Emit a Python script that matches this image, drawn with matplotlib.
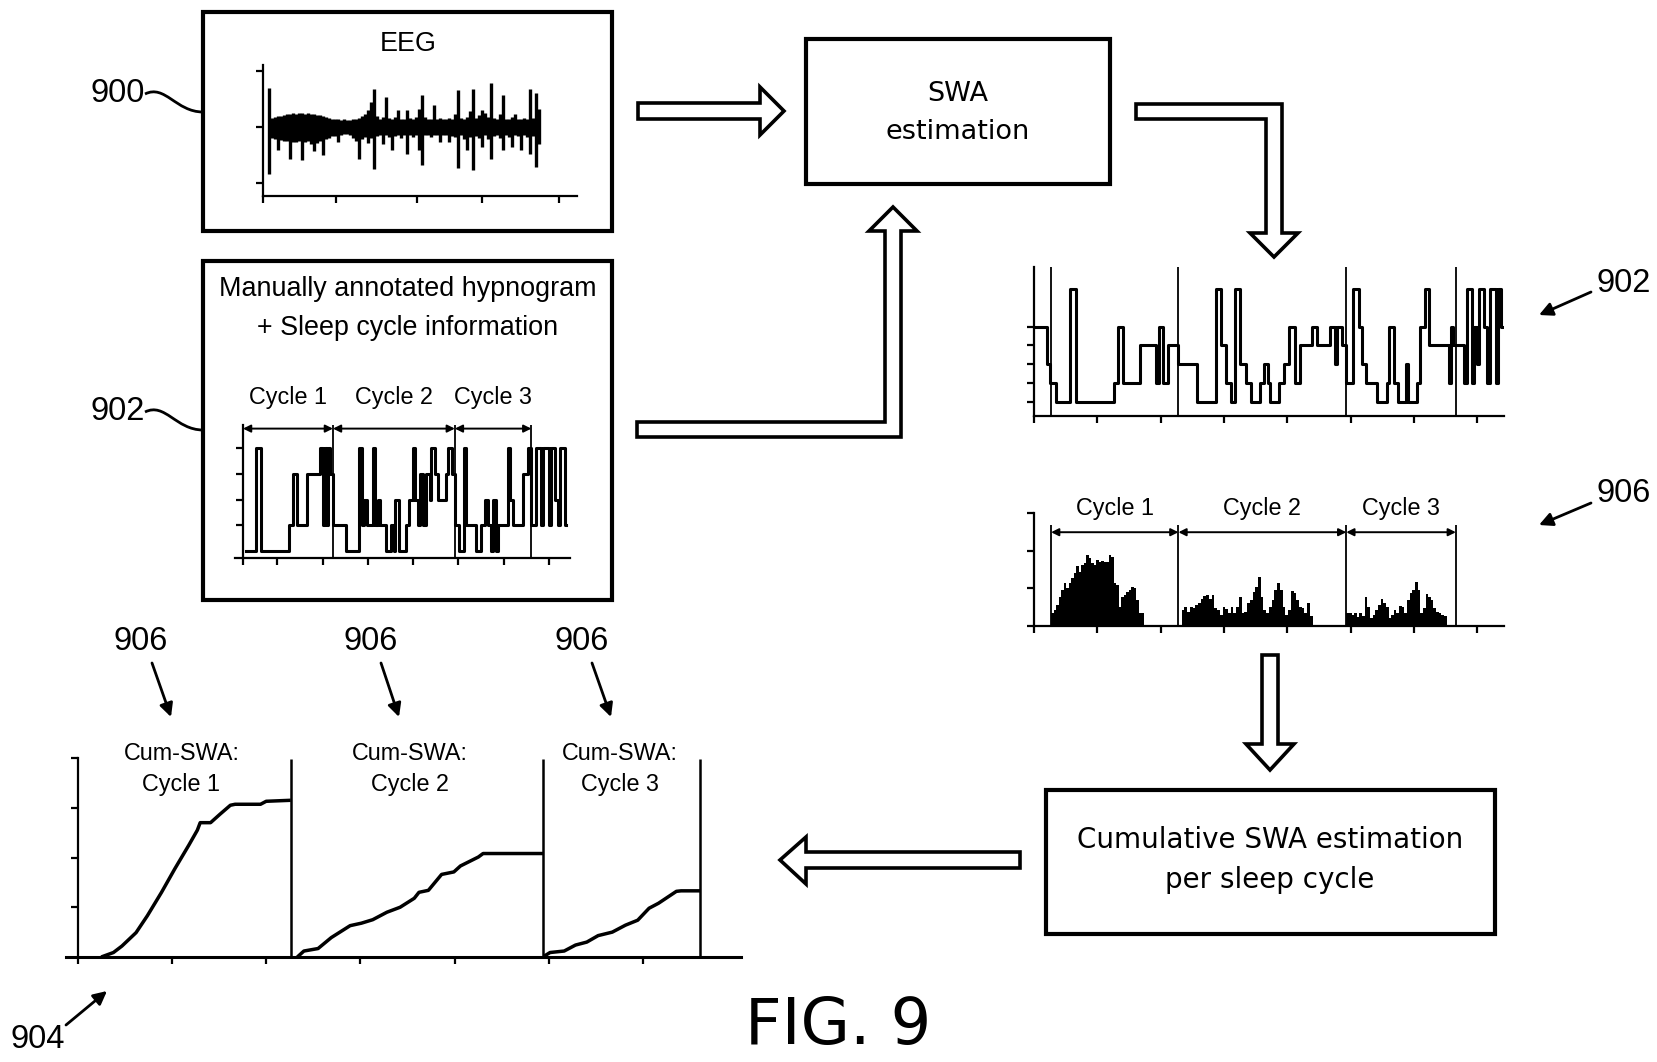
import matplotlib
matplotlib.use('Agg')
from matplotlib import pyplot as plt
from matplotlib import patches, font_manager
from matplotlib.path import Path

W, H = 1658, 1062

# ---------------- data ----------------
# EEG trace: upper / lower extent of every sample
eeg_hi = [0.71, 0.17, 0.18, 0.19, 0.20, 0.22, 0.23, 0.24, 0.25, 0.24, 0.25, 0.25, 0.24, 0.25, 0.24, 0.23,
          0.22, 0.21, 0.20, 0.18, 0.17, 0.15, 0.14, 0.14, 0.13, 0.14, 0.13, 0.12, 0.14, 0.15, 0.17, 0.20,
          0.24, 0.30, 0.45, 0.69, 0.20, 0.15, 0.18, 0.54, 0.16, 0.14, 0.18, 0.30, 0.15, 0.14, 0.30, 0.16,
          0.14, 0.18, 0.33, 0.57, 0.18, 0.14, 0.15, 0.39, 0.14, 0.16, 0.14, 0.15, 0.17, 0.14, 0.24, 0.66,
          0.17, 0.14, 0.18, 0.28, 0.69, 0.16, 0.22, 0.30, 0.25, 0.18, 0.80, 0.17, 0.14, 0.24, 0.57, 0.15,
          0.14, 0.18, 0.24, 0.14, 0.15, 0.16, 0.14, 0.69, 0.16, 0.62, 0.33]
eeg_lo = [-0.84, -0.20, -0.22, -0.41, -0.24, -0.25, -0.26, -0.57, -0.27, -0.27, -0.26, -0.59, -0.27, -0.26,
          -0.30, -0.43, -0.28, -0.25, -0.51, -0.22, -0.20, -0.17, -0.16, -0.27, -0.14, -0.12, -0.13, -0.15,
          -0.20, -0.25, -0.57, -0.22, -0.18, -0.29, -0.20, -0.75, -0.16, -0.14, -0.30, -0.15, -0.18, -0.42,
          -0.16, -0.14, -0.20, -0.15, -0.48, -0.14, -0.18, -0.15, -0.42, -0.69, -0.15, -0.14, -0.18, -0.15,
          -0.14, -0.27, -0.15, -0.14, -0.27, -0.16, -0.18, -0.73, -0.15, -0.22, -0.42, -0.18, -0.77, -0.16,
          -0.20, -0.36, -0.15, -0.22, -0.57, -0.16, -0.14, -0.20, -0.42, -0.15, -0.18, -0.36, -0.15, -0.16,
          -0.42, -0.15, -0.18, -0.49, -0.16, -0.72, -0.30]
eeg_xticks = [-2, 22.3, 49.3, 71, 96.7]

# manually annotated hypnogram (inside box 902): change times, stage
hyp_t = [0.07, 0.30, 0.41, 1.02, 1.11, 1.19, 1.43, 1.72, 1.78, 1.83, 1.87, 1.90, 1.93, 1.99, 2.30, 2.58,
         2.65, 2.68, 2.76, 2.90, 2.94, 3.00, 3.05, 3.17, 3.30, 3.35, 3.39, 3.46, 3.63, 3.70, 3.78, 3.83,
         3.89, 3.93, 4.00, 4.07, 4.15, 4.19, 4.26, 4.33, 4.52, 4.56, 4.65, 4.71, 4.81, 4.91, 4.95, 5.19,
         5.30, 5.37, 5.45, 5.52, 5.56, 5.63, 5.67, 5.89, 5.93, 6.00, 6.22, 6.33, 6.41, 6.52, 6.63, 6.67,
         6.81, 6.84, 6.93, 7.00, 7.04, 7.15]
hyp_stage = [0, 4, 0, 1, 3, 1, 3, 4, 1, 4, 1, 4, 3, 1, 0, 4,
             1, 2, 1, 4, 1, 2, 1, 0, 1, 0, 2, 0, 1, 2, 4, 2,
             1, 3, 1, 3, 2, 4, 3, 2, 3, 4, 3, 1, 0, 4, 1, 0,
             1, 2, 1, 0, 2, 0, 1, 4, 2, 1, 3, 4, 1, 4, 1, 4,
             1, 4, 2, 1, 4, 1]
hyp_end = 7.19
hyp_cycles = [0, 2.0, 4.71, 6.41]
hyp_xticks = [0, 0.76, 1.78, 2.78, 3.78, 4.78, 5.8, 6.8]

# full-night hypnogram (right, 902)
hyp2_t = [0.00, 0.21, 0.26, 0.34, 0.57, 0.66, 1.26, 1.33, 1.41, 1.68, 1.92, 1.97, 2.04, 2.11, 2.28, 2.58,
          2.87, 2.95, 3.03, 3.11, 3.17, 3.25, 3.34, 3.42, 3.57, 3.63, 3.69, 3.73, 3.87, 3.95, 4.03, 4.12,
          4.20, 4.39, 4.47, 4.68, 4.75, 4.79, 4.87, 4.93, 5.03, 5.13, 5.18, 5.24, 5.42, 5.58, 5.61, 5.69,
          5.74, 5.87, 5.91, 6.05, 6.09, 6.18, 6.24, 6.55, 6.58, 6.62, 6.79, 6.84, 6.92, 6.95, 7.00, 7.03,
          7.11, 7.15, 7.20, 7.29, 7.32, 7.37]
hyp2_stage = [4, 2, 1, 0, 6, 0, 1, 4, 1, 3, 1, 4, 1, 3, 2, 0,
              6, 3, 1, 0, 6, 2, 1, 0, 1, 2, 1, 0, 1, 2, 4, 1,
              3, 4, 3, 4, 2, 4, 3, 1, 6, 4, 2, 1, 0, 1, 4, 1,
              0, 2, 0, 1, 4, 6, 3, 1, 4, 3, 1, 6, 1, 4, 2, 6,
              4, 1, 6, 1, 6, 4]
hyp2_end = 7.41
night_cycles = [0.27, 2.28, 4.93, 6.66]

# SWA per epoch, one list per sleep cycle (906)
swa_c1 = [0.34, 0.42, 0.56, 0.78, 0.96, 1.13, 1.00, 1.13, 1.27, 1.40, 1.59, 1.44, 1.62, 1.66, 1.88, 1.80,
          1.66, 1.62, 1.75, 1.71, 1.73, 1.71, 1.71, 1.88, 1.84, 1.13, 1.09, 0.51, 0.78, 0.82, 0.91, 0.96,
          1.03, 1.02, 0.69, 0.34, 0.34]
swa_c2 = [0.42, 0.51, 0.38, 0.50, 0.47, 0.56, 0.60, 0.73, 0.80, 0.82, 0.71, 0.82, 0.47, 0.42, 0.29, 0.50,
          0.44, 0.34, 0.50, 0.34, 0.51, 0.78, 0.34, 0.38, 0.60, 0.69, 0.91, 1.04, 1.31, 0.78, 0.42, 0.34,
          0.51, 0.69, 0.96, 1.13, 0.96, 0.51, 0.29, 0.42, 0.94, 0.87, 0.69, 0.51, 0.47, 0.34, 0.60, 0.27]
swa_c3 = [0.34, 0.35, 0.29, 0.34, 0.25, 0.35, 0.27, 0.78, 0.51, 0.20, 0.29, 0.42, 0.56, 0.71, 0.60, 0.50,
          0.20, 0.29, 0.42, 0.34, 0.53, 0.51, 0.34, 0.69, 0.87, 0.96, 1.18, 0.96, 0.34, 0.47, 0.85, 0.78,
          0.69, 0.47, 0.38, 0.34, 0.29, 0.27]
swa_start = [0.27, 2.33, 4.93]
swa_epoch = [0.0395, 0.0431, 0.0417]
cycle_names = ['Cycle 1', 'Cycle 2', 'Cycle 3']

# cumulative SWA per cycle (904)
cum1_x = [0.25, 0.38, 0.47, 0.62, 0.74, 0.89, 1.03, 1.18, 1.27, 1.30, 1.41, 1.51, 1.62, 1.67, 1.94, 2.00, 2.26]
cum1_y = [0, 0.09, 0.22, 0.49, 0.83, 1.30, 1.77, 2.25, 2.55, 2.70, 2.70, 2.87, 3.05, 3.07, 3.07, 3.13, 3.15]
cum2_x = [2.33, 2.40, 2.55, 2.69, 2.89, 3.01, 3.13, 3.28, 3.42, 3.57, 3.62, 3.72, 3.86, 3.99, 4.06, 4.25, 4.30, 4.94]
cum2_y = [0, 0.12, 0.17, 0.39, 0.63, 0.68, 0.75, 0.90, 1.00, 1.18, 1.30, 1.34, 1.66, 1.71, 1.83, 2.01, 2.08, 2.08]
cum3_x = [4.95, 5.01, 5.16, 5.28, 5.40, 5.52, 5.67, 5.81, 5.94, 6.06, 6.16, 6.35, 6.40, 6.61]
cum3_y = [0.02, 0.09, 0.12, 0.24, 0.30, 0.43, 0.50, 0.64, 0.74, 0.98, 1.08, 1.32, 1.33, 1.33]
cum_bounds = [2.26, 4.94, 6.60]
cum_title_x = [1.10, 3.52, 5.75]

# ---------------- fonts ----------------
names = {f.name for f in font_manager.fontManager.ttflist}
if 'Liberation Sans Narrow' in names:
    NARROW, NS = 'Liberation Sans Narrow', 1.0
else:
    NARROW, NS = 'Liberation Sans', 0.84
WIDE = 'DejaVu Sans'

fig = plt.figure(figsize=(W / 100, H / 100), dpi=100)
ax0 = fig.add_axes([0, 0, 1, 1])
ax0.set_xlim(0, W)
ax0.set_ylim(H, 0)
ax0.axis('off')


def px_axes(x0, x1, yt, yb):
    a = fig.add_axes([x0 / W, 1 - yb / H, (x1 - x0) / W, (yb - yt) / H])
    a.patch.set_alpha(0)
    for s in ('top', 'right'):
        a.spines[s].set_visible(False)
    for s in ('left', 'bottom'):
        a.spines[s].set_linewidth(1.6)
    a.tick_params(direction='out', length=5, width=1.6, labelleft=False, labelbottom=False)
    return a


def box(x0, y0, x1, y1):
    ax0.add_patch(patches.Rectangle((x0, y0), x1 - x0, y1 - y0, fill=False, lw=3.0,
                                    ec='k', joinstyle='miter'))


def block_arrow(pts):
    ax0.add_patch(patches.Polygon(pts, closed=True, fc='white', ec='k', lw=2.6, joinstyle='miter'))


def label_arrow(tail, tip):
    ax0.annotate('', xy=tip, xytext=tail,
                 arrowprops=dict(arrowstyle='-|>', lw=2.0, color='k', mutation_scale=20,
                                 shrinkA=0, shrinkB=0))


def leader(p0, p1, p2, p3):
    path = Path([p0, p1, p2, p3], [Path.MOVETO, Path.CURVE4, Path.CURVE4, Path.CURVE4])
    ax0.add_patch(patches.PathPatch(path, fill=False, lw=2.0, ec='k'))


# ---------------- boxes and texts ----------------
box(203, 12, 612, 231)
box(203, 261, 612, 600)
box(806, 39, 1110, 184)
box(1046, 790, 1495, 934)

ax0.text(408, 44, 'EEG', ha='center', va='center', family=NARROW, fontsize=23 * NS)
ax0.text(408, 289, 'Manually annotated hypnogram', ha='center', va='center', family=NARROW, fontsize=23 * NS)
ax0.text(408, 328, '+ Sleep cycle information', ha='center', va='center', family=NARROW, fontsize=23 * NS)
ax0.text(958, 94, 'SWA', ha='center', va='center', family=WIDE, fontsize=19.5)
ax0.text(958, 132, 'estimation', ha='center', va='center', family=WIDE, fontsize=19.5)
ax0.text(1270, 840, 'Cumulative SWA estimation', ha='center', va='center', family=WIDE, fontsize=20)
ax0.text(1270, 880, 'per sleep cycle', ha='center', va='center', family=WIDE, fontsize=20)
ax0.text(838, 1026, 'FIG. 9', ha='center', va='center', family=WIDE, fontsize=46)

# reference numerals
ax0.text(118, 94, '900', ha='center', va='center', family=NARROW, fontsize=28 * NS)
leader((145, 94), (165, 84), (176, 112), (203, 112))
ax0.text(118, 412, '902', ha='center', va='center', family=NARROW, fontsize=28 * NS)
leader((145, 412), (165, 402), (176, 430), (203, 430))
for x, (tx, ty), (hx, hy) in [(141, (152, 663), (171, 717)),
                              (371, (381, 663), (399, 717)),
                              (582, (592, 663), (611, 717))]:
    ax0.text(x, 642, '906', ha='center', va='center', family=NARROW, fontsize=28 * NS)
    label_arrow((tx, ty), (hx, hy))
ax0.text(38, 1040, '904', ha='center', va='center', family=NARROW, fontsize=28 * NS)
label_arrow((66, 1025), (107, 991))
ax0.text(1624, 283, '902', ha='center', va='center', family=NARROW, fontsize=28 * NS)
label_arrow((1591, 292), (1539, 315))
ax0.text(1624, 494, '906', ha='center', va='center', family=NARROW, fontsize=28 * NS)
label_arrow((1591, 503), (1539, 525))

# ---------------- hollow block arrows ----------------
block_arrow([(638, 103), (760, 103), (760, 87), (784, 111), (760, 135), (760, 119), (638, 119)])
block_arrow([(637, 422), (885, 422), (885, 231), (869, 231), (893, 207), (917, 231),
             (901, 231), (901, 437), (637, 437)])
block_arrow([(1136, 104), (1282, 104), (1282, 233), (1298, 233), (1274, 257), (1250, 233),
             (1266, 233), (1266, 119), (1136, 119)])
block_arrow([(1262, 655), (1278, 655), (1278, 744), (1294, 744), (1270, 770), (1246, 744), (1262, 744)])
block_arrow([(1020, 852), (806, 852), (806, 837), (780, 860), (806, 884), (806, 868), (1020, 868)])

# ---------------- EEG ----------------
ax = px_axes(263, 577, 65, 196)
ax.vlines(range(len(eeg_hi)), eeg_lo, eeg_hi, color='k', lw=2.4)
ax.set_xlim(-2, 102.7)
ax.set_ylim(-1.243, 1.117)
ax.set_xticks(eeg_xticks)
ax.set_yticks([-1, 0, 1])

# ---------------- manually annotated hypnogram ----------------
ax = px_axes(235, 570, 425, 558)
ax.step(hyp_t + [hyp_end], hyp_stage + [hyp_stage[-1]], where='post', color='k', lw=2.2)
ax.set_xlim(-0.178, 7.27)
ax.set_ylim(-0.272, 4.90)
ax.spines['left'].set_position(('data', 0))
ax.set_xticks(hyp_xticks)
ax.set_yticks([1, 2, 3, 4])
ax.vlines(hyp_cycles, -0.272, 4.90, color='k', lw=1.3)
for i in range(3):
    ax.annotate('', xy=(hyp_cycles[i + 1], 4.76), xytext=(hyp_cycles[i], 4.76),
                arrowprops=dict(arrowstyle='<|-|>', lw=1.4, color='k', mutation_scale=11,
                                shrinkA=0, shrinkB=0), annotation_clip=False)
    ax.text((hyp_cycles[i] + hyp_cycles[i + 1]) / 2, 5.95, cycle_names[i], ha='center', va='center',
            family=NARROW, fontsize=20 * NS, clip_on=False)

# ---------------- full-night hypnogram ----------------
ax = px_axes(1034, 1504, 267, 416)
ax.step(hyp2_t + [hyp2_end], hyp2_stage + [hyp2_stage[-1]], where='post', color='k', lw=2.2)
ax.set_xlim(0, 7.42)
ax.set_ylim(-0.76, 7.18)
ax.set_xticks(range(8))
ax.set_yticks([0, 1, 2, 3, 4])
ax.vlines(night_cycles, -0.76, 7.18, color='k', lw=1.3)

# ---------------- SWA per cycle ----------------
ax = px_axes(1034, 1504, 513, 626)
for vals, x0, w in zip([swa_c1, swa_c2, swa_c3], swa_start, swa_epoch):
    ax.bar([x0 + k * w for k in range(len(vals))], vals, width=w, align='edge', color='k', lw=0)
ax.set_xlim(0, 7.42)
ax.set_ylim(0, 3.0)
ax.set_xticks(range(8))
ax.set_yticks([0, 1, 2, 3])
ax.vlines(night_cycles, 0, 2.68, color='k', lw=1.3)
for i in range(3):
    ax.annotate('', xy=(night_cycles[i + 1], 2.49), xytext=(night_cycles[i], 2.49),
                arrowprops=dict(arrowstyle='<|-|>', lw=1.4, color='k', mutation_scale=11,
                                shrinkA=0, shrinkB=0), annotation_clip=False)
    ax.text((night_cycles[i] + night_cycles[i + 1]) / 2, 3.13, cycle_names[i], ha='center',
            va='center', family=NARROW, fontsize=20 * NS, clip_on=False)

# ---------------- cumulative SWA ----------------
ax = px_axes(66, 741, 758, 957)
for cx, cy in [(cum1_x, cum1_y), (cum2_x, cum2_y), (cum3_x, cum3_y)]:
    ax.plot(cx, cy, color='k', lw=2.5, solid_capstyle='butt')
ax.set_xlim(-0.123, 7.035)
ax.set_ylim(0, 4)
ax.spines['left'].set_position(('data', 0))
ax.spines['bottom'].set_linewidth(2.2)
ax.set_xticks(range(7))
ax.set_yticks([1, 2, 3, 4])
ax.vlines(cum_bounds, 0, 3.97, color='k', lw=1.8)
for i in range(3):
    ax.text(cum_title_x[i], 3.78, 'Cum-SWA:\nCycle ' + str(i + 1), ha='center', va='center',
            family=NARROW, fontsize=20 * NS, linespacing=1.45, clip_on=False)

fig.savefig('out.png', dpi=100, facecolor='white')
